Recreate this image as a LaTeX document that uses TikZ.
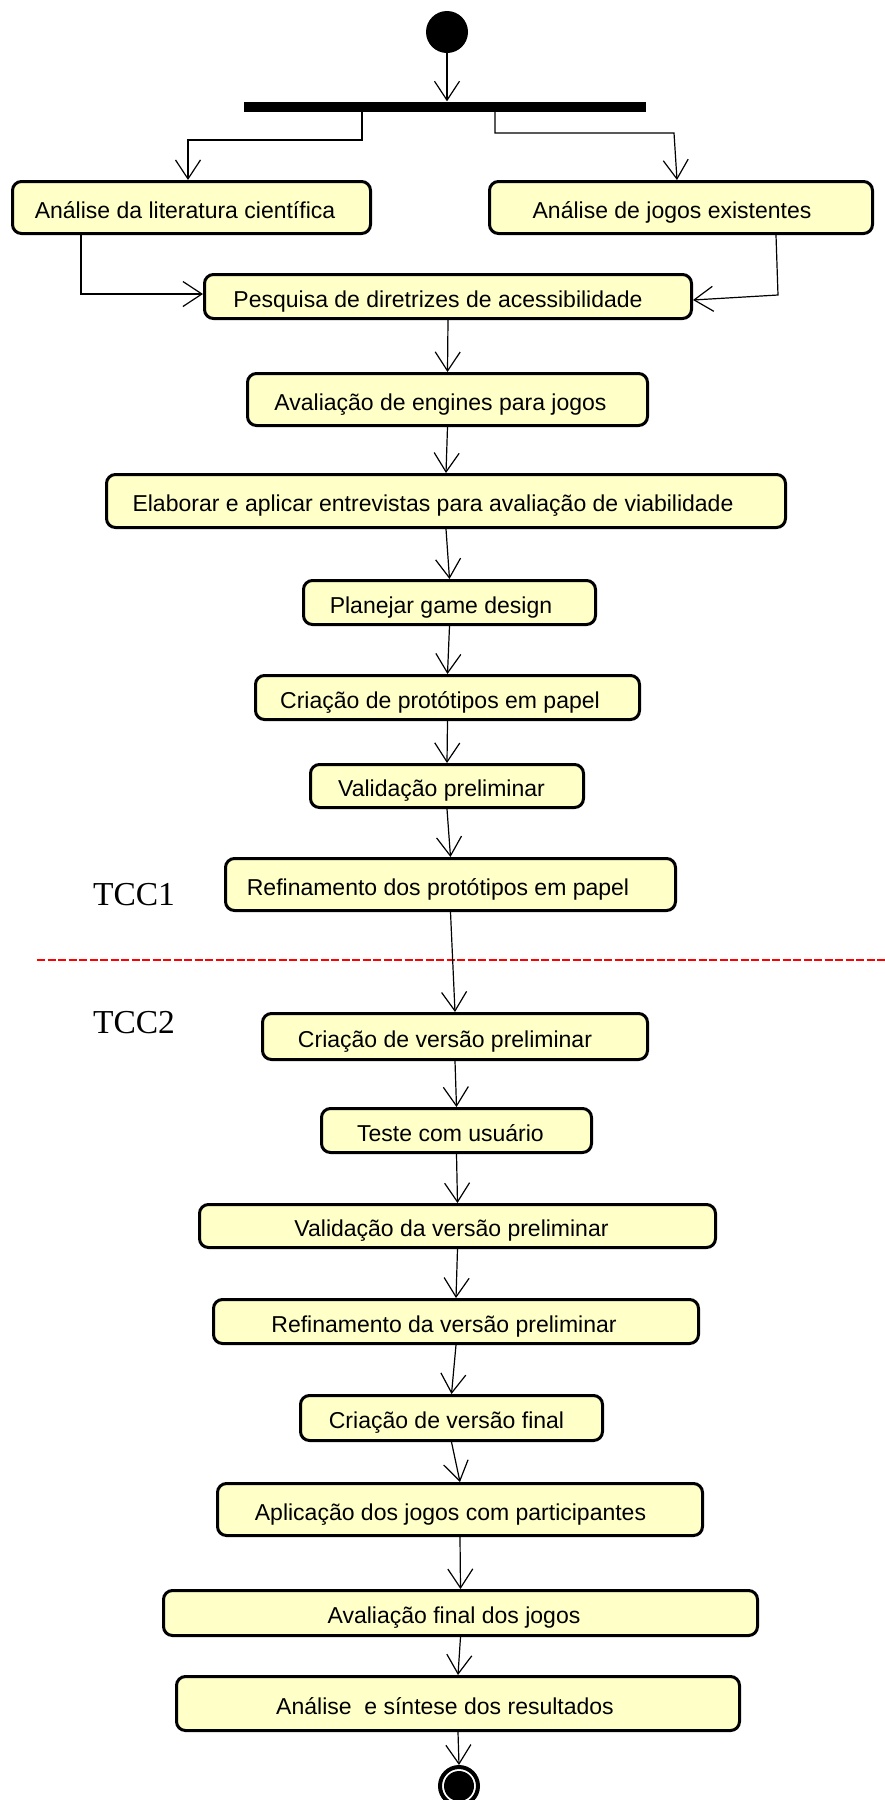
\documentclass[tikz,border=0pt]{standalone}
\usepackage{fontspec}
\newfontfamily\boxfont{Liberation Sans}
\newfontfamily\tccfont{Liberation Serif}
\usetikzlibrary{arrows.meta}
\definecolor{boxyellow}{RGB}{255,255,200}
\definecolor{sepred}{RGB}{255,0,0}
\newcommand{\padr}[1]{\rule{#1}{0pt}}
\begin{document}
\begin{tikzpicture}[x=1pt,y=-1pt,
  act/.style={draw=black, line width=3pt, fill=boxyellow, rounded corners=9pt,
    inner sep=0pt, text height=23pt, text depth=2pt,
    font=\boxfont\fontsize{23}{27}\selectfont},
  arr/.style={line width=1.2pt, -{Straight Barb[length=19pt,width=25pt,line width=1.2pt]}},
  tcc/.style={font=\tccfont\fontsize{33.5}{40}\selectfont, inner sep=0pt}
]
\useasboundingbox (0,0) rectangle (885,1800);

% start, fork
\node[circle, fill=black, minimum size=42pt, inner sep=0pt] (start) at (447,32) {};
\node[fill=black, minimum width=402pt, minimum height=10pt, inner sep=0pt] (fork) at (445,106.5) {};

% activities
\node[act, minimum width=358pt, minimum height=52pt] (lit) at (191.5,207.5) {Análise da literatura científica\padr{13pt}};
\node[act, minimum width=383pt, minimum height=52pt] (jogos) at (681,207.5) {Análise de jogos existentes\padr{18pt}};
\node[act, minimum width=487pt, minimum height=44pt] (pesq) at (448,296.5) {Pesquisa de diretrizes de acessibilidade\padr{20pt}};
\node[act, minimum width=400pt, minimum height=52pt] (aval) at (447.5,399.5) {Avaliação de engines para jogos\padr{14pt}};
\node[act, minimum width=679pt, minimum height=53pt] (elab) at (446,501) {Elaborar e aplicar entrevistas para avaliação de viabilidade\padr{26pt}};
\node[act, minimum width=292pt, minimum height=44pt] (plan) at (449.5,602.5) {Planejar game design\padr{17pt}};
\node[act, minimum width=384pt, minimum height=44pt] (cprot) at (447.5,697.5) {Criação de protótipos em papel\padr{15pt}};
\node[act, minimum width=273pt, minimum height=43pt] (valpre) at (447,786) {Validação preliminar\padr{11pt}};
\node[act, minimum width=450pt, minimum height=52pt] (refprot) at (450.5,884.5) {Refinamento dos protótipos em papel\padr{25pt}};
\node[act, minimum width=385pt, minimum height=46pt] (cvpre) at (455,1036.5) {Criação de versão preliminar\padr{20pt}};
\node[act, minimum width=270pt, minimum height=44pt] (teste) at (456.5,1130.5) {Teste com usuário\padr{12pt}};
\node[act, minimum width=516pt, minimum height=43pt] (valver) at (457.5,1226) {Validação da versão preliminar\padr{12pt}};
\node[act, minimum width=485pt, minimum height=44pt] (refver) at (456,1321.5) {Refinamento da versão preliminar\padr{24pt}};
\node[act, minimum width=302pt, minimum height=45pt] (cfinal) at (451.5,1418) {Criação de versão final\padr{10pt}};
\node[act, minimum width=485pt, minimum height=52pt] (aplic) at (460,1509.5) {Aplicação dos jogos com participantes\padr{19pt}};
\node[act, minimum width=594pt, minimum height=45pt] (avfin) at (460.5,1613) {Avaliação final dos jogos\padr{13pt}};
\node[act, minimum width=563pt, minimum height=54pt] (anal) at (458,1703.5) {Análise\ \ e síntese dos resultados\padr{26pt}};

% end
\node[circle, draw=black, line width=4pt, fill=white, minimum size=38pt, inner sep=0pt] (end) at (459,1786) {};
\fill[black] (end.center) circle (15pt);

% phase labels and separator
\node[tcc] (tcc1) at (134,895) {TCC1};
\node[tcc] (tcc2) at (134,1022.5) {TCC2};
\coordinate (sepL) at (37,960);
\coordinate (sepR) at (885,960);
\draw[sepred, line width=2.5pt, dash pattern=on 8pt off 2.5pt] (sepL) -- (sepR);

% bend points
\coordinate (b1) at (362,140);
\coordinate (b2) at (188,140);
\coordinate (b3) at (495,133);
\coordinate (b4) at (674,133);
\coordinate (b5) at (81,294);
\coordinate (b6) at (778,295);
\coordinate (b7) at (776,0);

% connectors
\draw[arr] (start.south) -- (start |- fork.north);
\draw[arr] (fork.south -| b1) -- (b1) -- (b2) -- (lit.north -| b2);
\draw[arr] (fork.south -| b3) -- (b3) -- (b4) -- ([xshift=-4pt]jogos.north);
\draw[arr] (lit.south -| b5) -- (b5) -- (pesq.west |- b5);
\draw[arr] (jogos.south -| b7) -- (b6) -- ([yshift=-3.5pt]pesq.east);
\draw[arr] (pesq.south) -- (aval.north);
\draw[arr] (aval.south) -- (elab.north);
\draw[arr] (elab.south) -- (plan.north);
\draw[arr] (plan.south) -- (cprot.north);
\draw[arr] (cprot.south) -- (valpre.north);
\draw[arr] (valpre.south) -- (refprot.north);
\draw[arr] (refprot.south) -- (cvpre.north);
\draw[arr] (cvpre.south) -- (teste.north);
\draw[arr] (teste.south) -- (valver.north);
\draw[arr] (valver.south) -- (refver.north);
\draw[arr] (refver.south) -- (cfinal.north);
\draw[arr] (cfinal.south) -- (aplic.north);
\draw[arr] (aplic.south) -- (avfin.north);
\draw[arr] (avfin.south) -- (anal.north);
\draw[arr] (anal.south) -- (end.north);
\end{tikzpicture}
\end{document}
